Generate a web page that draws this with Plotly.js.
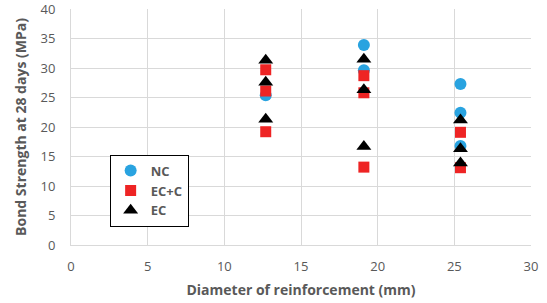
<!DOCTYPE html>
<html>
<head>
<meta charset="utf-8">
<script src="https://cdn.plot.ly/plotly-3.0.1.min.js"></script>
<style>html,body{margin:0;padding:0;background:#fff}#chart{width:547px;height:303px}</style>
</head>
<body>
<div id="chart"></div>
<script>
const ncX = [12.7, 19.1, 19.1, 25.4, 25.4, 25.4];
const ncY = [25.4, 33.9, 29.6, 27.3, 22.4, 16.8];
const eccX = [12.7, 12.7, 12.7, 19.1, 19.1, 19.1, 25.4, 25.4];
const eccY = [29.7, 26.1, 19.2, 28.7, 25.8, 13.2, 19.1, 13.1];
const ecX = [12.7, 12.7, 12.7, 19.1, 19.1, 19.1, 25.4, 25.4, 25.4];
const ecY = [31.3, 27.6, 21.3, 31.5, 26.3, 16.7, 21.2, 16.3, 13.9];
const seriesNames = ['NC', 'EC+C', 'EC'];

const font = '"Open Sans", Lato, sans-serif';
const traces = [
  {x: ncX, y: ncY, name: seriesNames[0], type: 'scatter', mode: 'markers',
   marker: {symbol: 'circle', size: 12, color: '#29a3e0'}},
  {x: eccX, y: eccY, name: seriesNames[1], type: 'scatter', mode: 'markers',
   marker: {symbol: 'square', size: 11, color: '#ee2424'}},
  {x: ecX, y: ecY, name: seriesNames[2], type: 'scatter', mode: 'markers',
   marker: {symbol: 'triangle-up', size: 13, color: '#000000'}}
];
const layout = {
  width: 547, height: 303,
  margin: {l: 71, r: 16, t: 9, b: 58},
  paper_bgcolor: '#fff', plot_bgcolor: '#fff',
  font: {family: font, color: '#595959', size: 13},
  showlegend: true,
  legend: {x: 0.084, y: 0.383, xanchor: 'left', yanchor: 'top',
    bordercolor: '#000', borderwidth: 1, bgcolor: '#fff',
    font: {family: font, size: 13, color: '#595959', weight: 'bold'},
    itemwidth: 30, tracegroupgap: 2},
  xaxis: {range: [0, 30], dtick: 5, showgrid: true, gridcolor: '#d9d9d9', zeroline: false,
    showline: true, linecolor: '#d9d9d9', ticks: '', ticklabelstandoff: 9, ticklabeloverflow: 'allow',
    tickfont: {size: 13, color: '#595959'}, automargin: false,
    title: {text: '<b>Diameter of reinforcement (mm)</b>', font: {size: 14, color: '#595959'}, standoff: 11}},
  yaxis: {range: [0, 40], dtick: 5, showgrid: true, gridcolor: '#d9d9d9', zeroline: false,
    showline: true, linecolor: '#d9d9d9', ticks: '', ticklabelstandoff: 12, ticklabeloverflow: 'allow',
    tickfont: {size: 13, color: '#595959'}, automargin: false,
    title: {text: '<b>Bond Strength at 28 days (MPa)</b>', font: {size: 14, color: '#595959'}, standoff: 10}}
};
Plotly.newPlot('chart', traces, layout, {displayModeBar: false, staticPlot: true});
</script>
</body>
</html>
